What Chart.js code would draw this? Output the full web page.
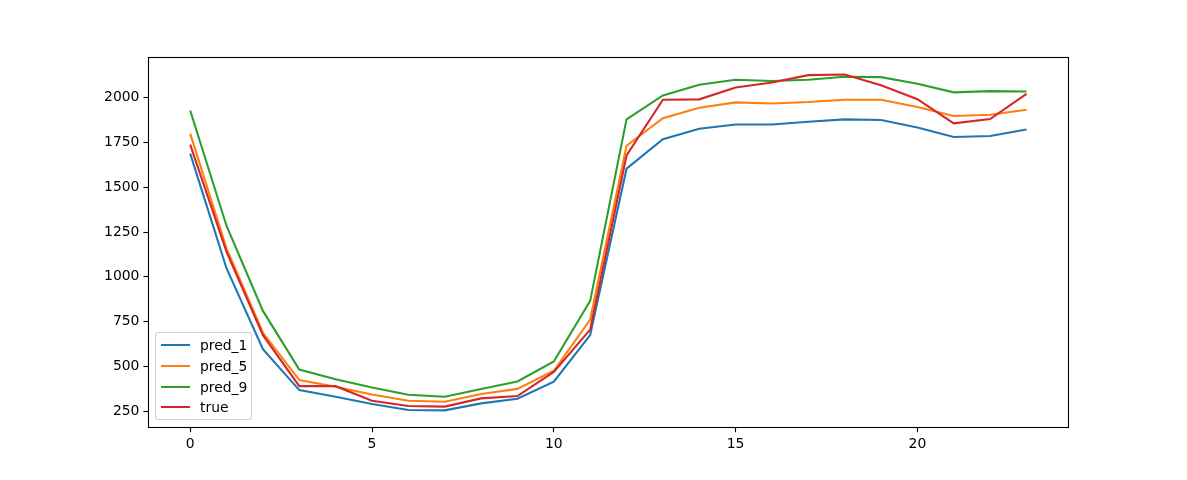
<!DOCTYPE html>
<html>
<head>
<meta charset="utf-8">
<script src="https://cdn.jsdelivr.net/npm/chart.js@4/dist/chart.umd.min.js"></script>
<style>
  html, body { margin: 0; padding: 0; background: #fff; }
  #wrap { position: relative; width: 1187px; height: 480px; }
  canvas { display: block; }
  #legend {
    position: absolute; left: 155px; top: 332px; width: 97px; height: 88px;
    box-sizing: border-box; border: 1px solid rgba(204,204,204,0.9); border-radius: 3px;
    background: rgba(255,255,255,0.8);
    font-family: "DejaVu Sans", sans-serif; font-size: 13.9px; color: #000;
  }
  .row { position: absolute; left: 0; height: 20px; }
  .sw { position: absolute; left: 5px; width: 29px; height: 0; border-top: 2px solid; }
  .lbl { position: absolute; left: 44px; white-space: nowrap; line-height: 16px; }
</style>
</head>
<body>
<div id="wrap">
  <canvas id="c" width="1187" height="480"></canvas>
  <div id="legend"></div>
</div>
<script>
const hours = [0,1,2,3,4,5,6,7,8,9,10,11,12,13,14,15,16,17,18,19,20,21,22,23];
const pred_1 = [1688,1047,597,368,331,290,257,255,294,320,415,675,1604,1768,1827,1851,1851,1866,1879,1876,1834,1781,1786,1823];
const pred_5 = [1800,1158,688,424,387,344,309,303,346,375,476,762,1732,1886,1944,1974,1968,1976,1989,1989,1948,1898,1905,1933];
const pred_9 = [1929,1284,810,483,429,383,342,331,374,416,528,866,1879,2013,2072,2100,2093,2100,2117,2115,2078,2030,2037,2035];
const trueVals = [1738,1139,675,390,390,309,279,276,322,335,470,706,1678,1989,1991,2057,2085,2126,2130,2069,1992,1857,1881,2022];
const xTicks = [0,5,10,15,20];
const yTicks = [250,500,750,1000,1250,1500,1750,2000];

const seriesNames = ['pred_1','pred_5','pred_9','true'];
const seriesData = [pred_1, pred_5, pred_9, trueVals];
const seriesColors = ['#1f77b4','#ff7f0e','#2ca02c','#d62728'];

const font = { family: "'DejaVu Sans', sans-serif", size: 13.9 };

const datasets = seriesNames.map((name, k) => ({
  label: name,
  data: hours.map((h, i) => ({ x: h, y: seriesData[k][i] })),
  borderColor: seriesColors[k],
  backgroundColor: seriesColors[k],
  borderWidth: 2.1,
  pointRadius: 0,
  tension: 0,
  fill: false,
  order: seriesNames.length - k
}));

const frame = {
  id: 'frame',
  afterDraw(chart) {
    const a = chart.chartArea, ctx = chart.ctx;
    ctx.save();
    ctx.strokeStyle = '#000';
    ctx.lineWidth = 1.1;
    ctx.strokeRect(Math.floor(a.left) + 0.5, Math.floor(a.top) + 0.5,
                   Math.floor(a.right) - Math.floor(a.left), Math.floor(a.bottom) - Math.floor(a.top));
    ctx.restore();
  }
};

new Chart(document.getElementById('c'), {
  type: 'line',
  data: { datasets },
  options: {
    responsive: false,
    animation: false,
    layout: { padding: { left: 1.4, right: 118.7, top: 57.6, bottom: 0 } },
    plugins: { legend: { display: false }, tooltip: { enabled: false } },
    scales: {
      x: {
        type: 'linear',
        min: -1.15, max: 24.15,
        afterBuildTicks: s => { s.ticks = xTicks.map(v => ({ value: v })); },
        afterFit: s => { s.height = 52.8; },
        ticks: { color: '#000', font, padding: 4, maxRotation: 0, autoSkip: false, callback: v => String(v) },
        grid: { drawOnChartArea: false, tickLength: 5, color: '#000', tickWidth: 1.1 },
        border: { display: false }
      },
      y: {
        min: 161, max: 2224,
        afterBuildTicks: s => { s.ticks = yTicks.map(v => ({ value: v })); },
        afterFit: s => { s.width = 147; },
        ticks: { color: '#000', font, padding: 4, autoSkip: false, callback: v => String(v) },
        grid: { drawOnChartArea: false, tickLength: 5, color: '#000', tickWidth: 1.1 },
        border: { display: false }
      }
    }
  },
  plugins: [frame]
});

const leg = document.getElementById('legend');
seriesNames.forEach((name, k) => {
  const row = document.createElement('div');
  row.className = 'row';
  row.style.top = (3 + k * 20.8) + 'px';
  row.innerHTML = '<div class="sw" style="top:8px;border-color:' + seriesColors[k] + '"></div>' +
                  '<div class="lbl" style="top:1px">' + name + '</div>';
  leg.appendChild(row);
});
</script>
</body>
</html>
